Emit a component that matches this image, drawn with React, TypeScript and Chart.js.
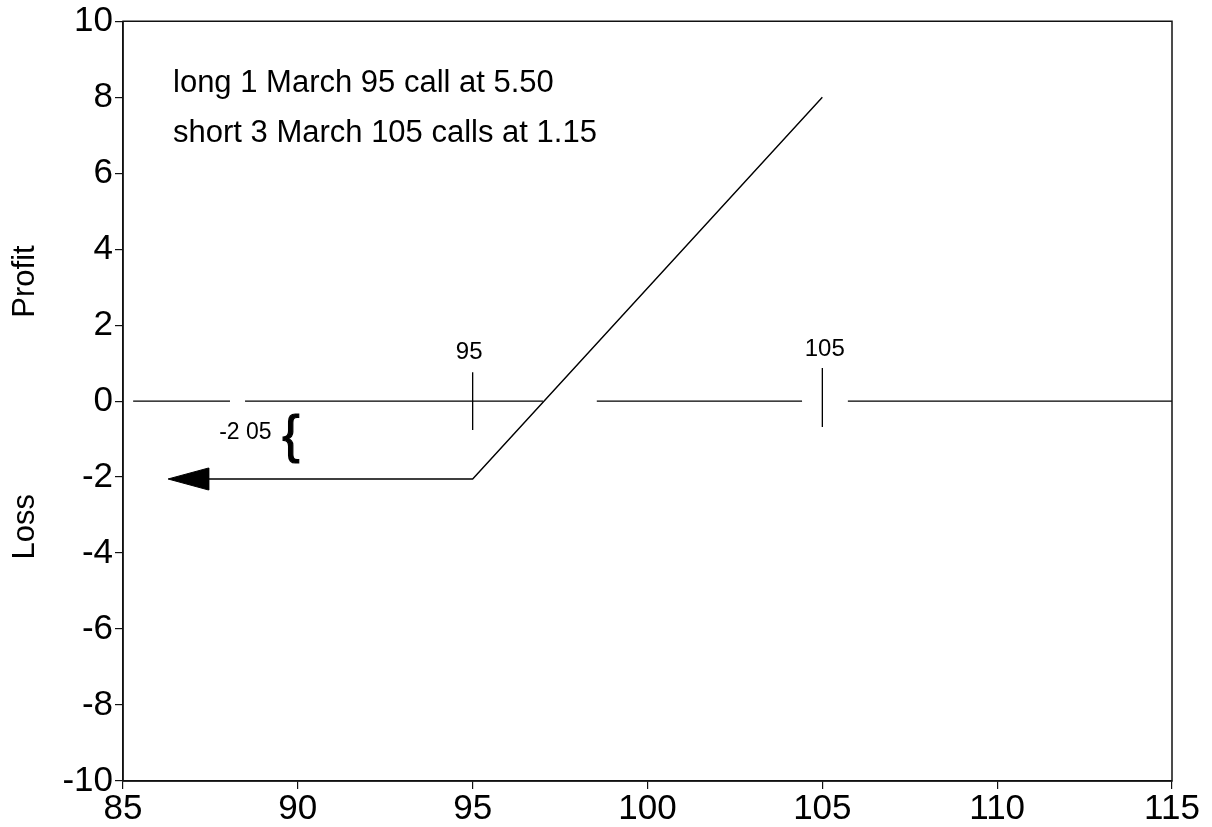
import React, { useEffect, useRef } from 'react';
import { Chart, registerables } from 'chart.js';

Chart.register(...registerables);

// ---- data ----
const xTickValues = [85, 90, 95, 100, 105, 110, 115];
const yTickValues = [-10, -8, -6, -4, -2, 0, 2, 4, 6, 8, 10];

// payoff line (arrow shaft start, 95 strike, 105 strike)
const payoffX = [87.4, 95, 105];
const payoffY = [-2.05, -2.05, 8.0];

// arrow head polygon (tip, upper base, lower base, tip)
const arrowX = [86.29, 87.45, 87.45, 86.29];
const arrowY = [-2.05, -1.76, -2.34, -2.05];

// zero line drawn in broken segments
const zeroStarts = [85.29, 88.49, 98.55, 105.73];
const zeroEnds = [88.06, 97.01, 104.42, 115];

// strike markers
const strikeX = [95, 105];
const strikeTop = [0.76, 0.87];
const strikeBottom = [-0.76, -0.68];
const strikeLabels = ['95', '105'];

const noteLines = ['long 1 March 95 call at 5.50', 'short 3 March 105 calls at 1.15'];
const lossLabel = '-2 05';

const FONT = '"Liberation Sans", Arial, Helvetica, sans-serif';

function buildZero() {
  const pts: any[] = [];
  zeroStarts.forEach((s, i) => {
    if (i > 0) pts.push({ x: (zeroEnds[i - 1] + s) / 2, y: null });
    pts.push({ x: s, y: 0 });
    pts.push({ x: zeroEnds[i], y: 0 });
  });
  return pts;
}

function buildStrikes() {
  const pts: any[] = [];
  strikeX.forEach((x, i) => {
    if (i > 0) pts.push({ x: (strikeX[i - 1] + x) / 2, y: null });
    pts.push({ x, y: strikeTop[i] });
    pts.push({ x, y: strikeBottom[i] });
  });
  return pts;
}

const textPlugin = {
  id: 'texts',
  afterDatasetsDraw(chart: any) {
    const { ctx, chartArea } = chart;
    const xs = chart.scales.x;
    const ys = chart.scales.y;
    ctx.save();
    ctx.fillStyle = '#000';
    // frame
    ctx.strokeStyle = '#111';
    ctx.lineWidth = 1.5;
    ctx.strokeRect(chartArea.left, chartArea.top, chartArea.right - chartArea.left, chartArea.bottom - chartArea.top);

    // annotation
    ctx.font = `31px ${FONT}`;
    ctx.textAlign = 'left';
    ctx.textBaseline = 'middle';
    ctx.fillText(noteLines[0], xs.getPixelForValue(86.43), ys.getPixelForValue(8.35));
    ctx.fillText(noteLines[1], xs.getPixelForValue(86.43), ys.getPixelForValue(7.05));

    // strike labels
    ctx.font = `24px ${FONT}`;
    ctx.textAlign = 'center';
    ctx.fillText(strikeLabels[0], xs.getPixelForValue(94.9), ys.getPixelForValue(1.29));
    ctx.fillText(strikeLabels[1], xs.getPixelForValue(105.07), ys.getPixelForValue(1.36));

    // -2 05 and brace
    ctx.font = `23px ${FONT}`;
    ctx.textAlign = 'center';
    ctx.fillText(lossLabel, xs.getPixelForValue(88.5), ys.getPixelForValue(-0.84));
    ctx.font = `52px ${FONT}`;
    ctx.lineWidth = 1.2;
    ctx.strokeStyle = '#000';
    const bx = xs.getPixelForValue(89.8);
    const by = ys.getPixelForValue(-0.97);
    ctx.fillText('{', bx, by);
    ctx.strokeText('{', bx, by);

    // Profit / Loss side labels
    ctx.font = `31px ${FONT}`;
    const drawRot = (t: string, yv: number) => {
      ctx.save();
      ctx.translate(chartArea.left - 98, ys.getPixelForValue(yv));
      ctx.rotate(-Math.PI / 2);
      ctx.textAlign = 'center';
      ctx.textBaseline = 'middle';
      ctx.fillText(t, 0, 0);
      ctx.restore();
    };
    drawRot('Profit', 3.15);
    drawRot('Loss', -3.31);
    ctx.restore();
  },
};

export default function App() {
  const ref = useRef<HTMLCanvasElement>(null);
  useEffect(() => {
    document.body.style.margin = '0';
    Chart.defaults.font.family = FONT;
    const chart = new Chart(ref.current!, {
      type: 'line',
      data: {
        datasets: [
          {
            data: buildZero(),
            borderColor: '#000',
            borderWidth: 1.3,
            pointRadius: 0,
            spanGaps: false,
          },
          {
            data: buildStrikes(),
            borderColor: '#000',
            borderWidth: 1.3,
            pointRadius: 0,
            spanGaps: false,
          },
          {
            data: payoffX.map((x, i) => ({ x, y: payoffY[i] })),
            borderColor: '#000',
            borderWidth: 1.4,
            pointRadius: 0,
            tension: 0,
          },
          {
            data: arrowX.map((x, i) => ({ x, y: arrowY[i] })),
            borderColor: '#000',
            backgroundColor: '#000',
            borderWidth: 1,
            pointRadius: 0,
            fill: 'shape',
          },
        ] as any,
      },
      options: {
        animation: false,
        responsive: true,
        maintainAspectRatio: false,
        layout: { padding: { left: 0, right: 40, top: 20, bottom: 0 } },
        plugins: { legend: { display: false }, tooltip: { enabled: false } },
        scales: {
          x: {
            type: 'linear',
            min: 85,
            max: 115,
            afterFit: (s: any) => { s.height = 46; },
            afterBuildTicks: (s: any) => { s.ticks = xTickValues.map((v) => ({ value: v })); },
            ticks: { font: { size: 35, lineHeight: 1.1 }, color: '#000', padding: 1, maxRotation: 0 },
            grid: { drawOnChartArea: false, tickLength: 8, color: '#111', lineWidth: 1.2 },
            border: { display: true, color: '#111', width: 1.5 },
          },
          y: {
            type: 'linear',
            min: -10,
            max: 10,
            afterFit: (s: any) => { s.width = 123; },
            afterBuildTicks: (s: any) => { s.ticks = yTickValues.map((v) => ({ value: v })); },
            ticks: { font: { size: 35, lineHeight: 1.1 }, color: '#000', padding: 2 },
            grid: { drawOnChartArea: false, tickLength: 8, color: '#111', lineWidth: 1.2 },
            border: { display: true, color: '#111', width: 1.5 },
          },
        },
      },
      plugins: [textPlugin],
    });
    return () => chart.destroy();
  }, []);
  return (
    <div style={{ position: 'absolute', left: 0, top: 0, width: 1212, height: 827, background: '#fff' }}>
      <canvas ref={ref} />
    </div>
  );
}
